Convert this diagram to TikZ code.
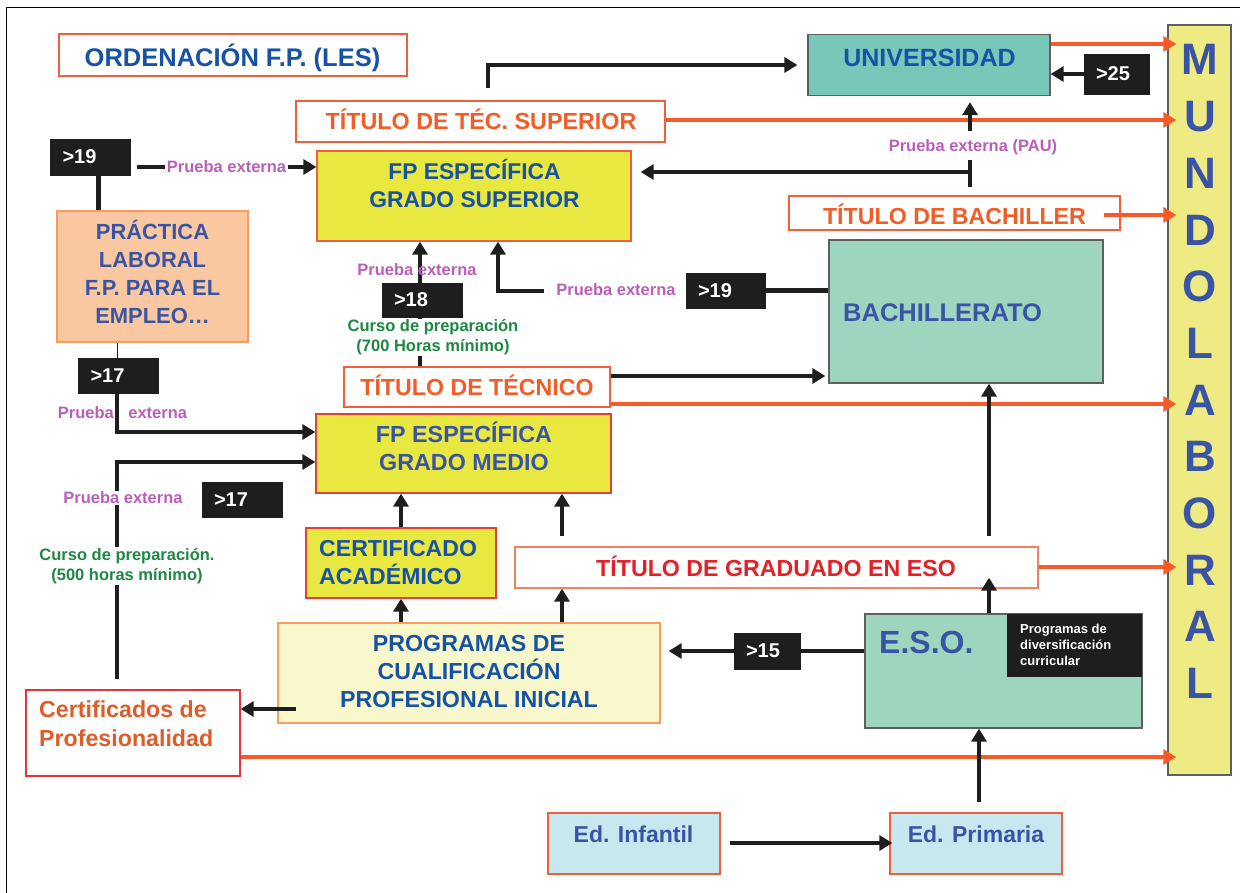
\documentclass[tikz,border=0pt]{standalone}
\usepackage{fontspec}
\setmainfont{Liberation Sans}
\usetikzlibrary{arrows.meta}
\definecolor{blueA}{RGB}{22,82,165}
\definecolor{blueB}{RGB}{58,84,165}
\definecolor{orT}{RGB}{242,92,38}
\definecolor{redT}{RGB}{226,32,38}
\definecolor{cpT}{RGB}{222,92,42}
\definecolor{orB}{RGB}{240,95,60}
\definecolor{redB}{RGB}{230,50,60}
\definecolor{grayB}{RGB}{95,95,95}
\definecolor{oline}{RGB}{245,90,40}
\definecolor{purp}{RGB}{185,95,185}
\definecolor{grn}{RGB}{30,135,65}
\definecolor{blk}{RGB}{30,30,30}
\definecolor{tealU}{RGB}{120,200,185}
\definecolor{tealB}{RGB}{158,213,190}
\definecolor{yelM}{RGB}{238,234,132}
\definecolor{yelG}{RGB}{232,232,64}
\definecolor{peach}{RGB}{250,200,160}
\definecolor{pcpiY}{RGB}{248,248,204}
\definecolor{pcpiB}{RGB}{250,155,95}
\definecolor{edF}{RGB}{198,232,238}
\newcommand\fsz[2]{\fontsize{#1}{#2}\selectfont}
\begin{document}
\begin{tikzpicture}[x=1pt,y=-1pt,
  box/.style={draw=orB, line width=1.3pt, fill=white, inner sep=0pt},
  gbox/.style={box, draw=grayB},
  bk/.style={fill=blk, draw=blk, text=white, inner ysep=0pt, inner xsep=12pt, align=left, font=\bfseries\fsz{20}{24}, minimum height=35pt},
  tx/.style={inner sep=0pt},
  conn/.style={line width=4.5pt, draw=blk},
  arr/.style={conn, -{Triangle[width=15pt,length=13pt]}},
  oarr/.style={line width=4.3pt, draw=oline, -{Triangle[width=15pt,length=13pt]}},
  pe/.style={tx, text=purp, font=\bfseries\fsz{16.5}{20}},
  cu/.style={tx, text=grn, font=\bfseries\fsz{16.5}{20}, align=center},
]
\useasboundingbox (0,0) rectangle (1240,893);
\draw[line width=1pt] (6,893) -- (6,8) -- (1240,8);

% ---------- boxes ----------
\node[box, minimum width=348pt, minimum height=42pt] (ord) at (233,55) {};
\node[gbox, fill=tealU, minimum width=242pt, minimum height=61pt] (univ) at (929,65) {};
\node[bk, text width=41pt, minimum width=65pt, minimum height=40pt] (g25) at (1116.5,74) {>25};
\node[gbox, fill=yelM, minimum width=63pt, minimum height=750pt] (mundo) at (1199.5,400) {};
\node[box, minimum width=369pt, minimum height=41pt] (tts) at (480.5,121.5) {};
\node[bk, text width=56pt, minimum width=80pt, minimum height=36pt] (g19a) at (90.5,157) {>19};
\node[box, fill=yelG, minimum width=314pt, minimum height=90pt] (gs) at (474,196) {};
\node[box, minimum width=331pt, minimum height=34pt] (tb) at (954.5,213) {};
\node[box, draw=pcpiB, fill=peach, minimum width=191pt, minimum height=131pt] (prac) at (152.5,276.5) {};
\node[gbox, fill=tealB, minimum width=274pt, minimum height=143pt] (bach) at (966,311.5) {};
\node[bk, text width=55pt, minimum width=79pt] (g19b) at (725.5,290.5) {>19};
\node[box, minimum width=266pt, minimum height=40pt] (tt) at (477,387) {};
\node[bk, text width=56pt, minimum width=80pt] (g17a) at (118.5,375.5) {>17};
\node[box, draw=redB!80!orB, fill=yelG, minimum width=295pt, minimum height=79pt] (gm) at (463.5,453.5) {};
\node[bk, text width=56pt, minimum width=80pt] (g17b) at (242,499.5) {>17};
\node[box, draw=redB!80!orB, fill=yelG, minimum width=190pt, minimum height=70pt] (ca) at (401,563) {};
\node[box, draw=orB!80!white, minimum width=523pt, minimum height=41pt] (tge) at (776.5,567.5) {};
\node[box, draw=pcpiB, fill=pcpiY, minimum width=382pt, minimum height=100pt] (pcpi) at (469,673) {};
\node[bk, text width=42pt, minimum width=66pt, minimum height=36pt] (g15) at (767,651) {>15};
\node[gbox, fill=tealB, minimum width=277pt, minimum height=114pt] (eso) at (1003.5,671) {};
\node[fill=blk, inner sep=0pt, minimum width=135pt, minimum height=63pt] (pdc) at (1074.5,645.5) {};
\node[box, draw=redB, minimum width=214pt, minimum height=86pt] (cp) at (133,733) {};
\node[box, fill=edF, minimum width=172pt, minimum height=61pt] (ei) at (634,843.5) {};
\node[box, fill=edF, minimum width=172pt, minimum height=61pt] (ep) at (976,843.5) {};

% ---------- texts in boxes ----------
\node[tx, anchor=base, text=blueA, font=\bfseries\fsz{25.5}{30}] (ordt) at (232.5,66.1) {ORDENACIÓN F.P. (LES)};
\node[tx, anchor=base, text=blueA, font=\bfseries\fsz{25}{30}] (univt) at (929.5,66.5) {UNIVERSIDAD};
\node[tx, align=center, text=blueB, font=\bfseries\fsz{44}{56.7}] (mundot) at (1200,371.7) {M\\U\\N\\D\\O\\L\\A\\B\\O\\R\\A\\L};
\node[tx, anchor=base, text=orT, font=\bfseries\fsz{23.3}{28}] (ttst) at (481,129.3) {TÍTULO DE TÉC. SUPERIOR};
\node[tx, align=center, text=blueA, font=\bfseries\fsz{22.8}{28}] (gst) at (474.5,183.7) {FP ESPECÍFICA\\GRADO SUPERIOR};
\node[tx, anchor=base, text=orT, font=\bfseries\fsz{23.2}{28}] (tbt) at (954.5,224.3) {TÍTULO DE BACHILLER};
\node[tx, align=center, text=blueB, font=\bfseries\fsz{21.9}{28}] (pract) at (152.5,271.8) {PRÁCTICA\\LABORAL\\F.P. PARA EL\\EMPLEO…};
\node[tx, anchor=base west, text=blueB, font=\bfseries\fsz{25.5}{30}] (bacht) at (843,321.1) {BACHILLERATO};
\node[tx, anchor=base, text=orT, font=\bfseries\fsz{23.2}{28}] (ttt) at (477,395.3) {TÍTULO DE TÉCNICO};
\node[tx, align=center, text=blueB, font=\bfseries\fsz{23.3}{28}] (gmt) at (464,446.7) {FP ESPECÍFICA\\GRADO MEDIO};
\node[tx, anchor=west, align=left, text=blueA, font=\bfseries\fsz{23.1}{28}] (cat) at (319,563) {CERTIFICADO\\ACADÉMICO};
\node[tx, anchor=base, text=redT, font=\bfseries\fsz{23.2}{28}] (tget) at (776,576.3) {TÍTULO DE GRADUADO EN ESO};
\node[tx, align=center, text=blueA, font=\bfseries\fsz{23.2}{28}] (pcpit) at (469,672) {PROGRAMAS DE\\CUALIFICACIÓN\\PROFESIONAL INICIAL};
\node[tx, anchor=base west, text=blueB, font=\bfseries\fsz{32}{36}] (esot) at (879,653.5) {E.S.O.};
\node[tx, anchor=west, align=left, text=white, font=\bfseries\fsz{13}{16}] (pdct) at (1020,644.4) {Programas de\\diversificación\\curricular};
\node[tx, anchor=west, align=left, text=cpT, font=\bfseries\fsz{23.2}{29}] (cpt) at (39,724) {Certificados de\\Profesionalidad};
\node[tx, anchor=base, text=blueB, font=\bfseries\fsz{23}{28}] (eit) at (633.5,842.5) {Ed. Infantil};
\node[tx, anchor=base, text=blueB, font=\bfseries\fsz{23}{28}] (ept) at (976,842.5) {Ed. Primaria};

% ---------- helper coordinates ----------
\coordinate (c117) at (117,0);
\coordinate (c420) at (420,0);
\coordinate (c488) at (488,0);
\coordinate (c498) at (498,0);
\coordinate (c562) at (562,0);
\coordinate (c970) at (970,0);
\coordinate (c979) at (979,0);
\coordinate (c989) at (989,0);
\coordinate (y44) at (0,44);
\coordinate (y120) at (0,120);
\coordinate (y167) at (0,167);
\coordinate (y215) at (0,215);
\coordinate (y376) at (0,376);
\coordinate (y404) at (0,404);
\coordinate (y432) at (0,432);
\coordinate (y462) at (0,462);
\coordinate (y567) at (0,567);
\coordinate (y709) at (0,709);
\coordinate (y757) at (0,757);
\coordinate (y843) at (0,843);
\coordinate (tick) at (970,172);
\coordinate (pauS) at (970,131);
\coordinate (pe2s) at (544,291);

% ---------- orange connectors to MUNDO LABORAL ----------
\draw[oarr] (univ.east |- y44) -- ([xshift=9pt]mundo.west |- y44);
\draw[oarr] (tts.east |- y120) -- ([xshift=9pt]mundo.west |- y120);
\draw[oarr] ([xshift=-17pt]tb.east |- y215) -- ([xshift=9pt]mundo.west |- y215);
\draw[oarr] (tt.east |- y404) -- ([xshift=9pt]mundo.west |- y404);
\draw[oarr] (tge.east |- y567) -- ([xshift=9pt]mundo.west |- y567);
\draw[oarr] (cp.east |- y757) -- ([xshift=9pt]mundo.west |- y757);

% ---------- black connectors ----------
\draw[arr] ([yshift=12pt]tts.north -| c488) |- ([xshift=-10pt]univ.west);
\draw[arr] (g25.west) -- (univ.east |- g25.west);
\draw[arr] (pauS) -- ([yshift=-6pt]univ.south -| c970);
\draw[conn] ([yshift=12pt]tick) -- ([yshift=-15pt]tick);
\draw[arr] (tick) -- ([xshift=9pt]gs.east |- tick);

\draw[conn] ([xshift=8pt]g19a.south) -- ([xshift=8pt]g19a.south |- prac.north);
\draw[arr] ([xshift=6pt]g19a.east |- y167) -- node[pe, fill=white, inner xsep=1.5pt, inner ysep=1pt] (pe1) {Prueba externa} (gs.west |- y167);

\draw[arr] (c420 |- tt.north) -- (c420 |- gs.south);
\draw[arr] (pe2s) -| (c498 |- gs.south);
\draw[conn] (g19b.east) -- (bach.west |- g19b.east);
\draw[arr] (tt.east |- y376) -- ([xshift=-3pt]bach.west |- y376);

\draw[line width=1pt, draw=blk] (c117 |- prac.south) -- (c117 |- g17a.north);
\draw[arr] (c117 |- g17a.south) |- (gm.west |- y432);
\draw[arr] ([yshift=10pt]cp.north -| c117) |- (gm.west |- y462);

\draw[arr] (ca.north) -- (ca.north |- gm.south);
\draw[arr] ([yshift=10pt]tge.north -| c562) -- (c562 |- gm.south);
\draw[arr] (pcpi.north -| ca.north) -- (ca.south);
\draw[arr] (pcpi.north -| c562) -- (tge.south -| c562);
\draw[arr] ([xshift=19pt]pcpi.west |- y709) -- (cp.east |- y709);

\draw[conn] (eso.west |- g15.east) -- (g15.east);
\draw[arr] (g15.west) -- ([xshift=8pt]pcpi.east |- g15.west);
\draw[arr] (eso.north -| c989) -- ([yshift=11pt]tge.south -| c989);
\draw[arr] ([yshift=10pt]tge.north -| c989) -- (bach.south -| c989);
\draw[arr] ([yshift=10pt]ep.north -| c979) -- (eso.south -| c979);
\draw[arr] ([xshift=9pt]ei.east |- y843) -- ([xshift=3pt]ep.west |- y843);

% ---------- overlay labels ----------
\node[bk, text width=56pt, minimum width=80pt, minimum height=34pt] (g18) at (422,300) {>18};
\node[pe, anchor=base] (pe2) at (417,275.5) {Prueba externa};
\node[pe, anchor=base] (pe3) at (616,295.5) {Prueba externa};
\node[pe, anchor=base] (pau) at (973,151.9) {Prueba externa (PAU)};
\node[cu, fill=white, inner sep=1pt] (cu7) at (433,337.4) {Curso de preparación\\(700 Horas mínimo)};
\node[pe, anchor=base] (pe4) at (122.5,418.5) {Prueba\hspace{10pt} externa};
\node[pe, anchor=base, fill=white, inner sep=1pt] (pe5) at (123,503.5) {Prueba externa};
\node[cu, fill=white, inner sep=1pt] (cu5) at (127,565.8) {Curso de preparación.\\(500 horas mínimo)};
\end{tikzpicture}
\end{document}
